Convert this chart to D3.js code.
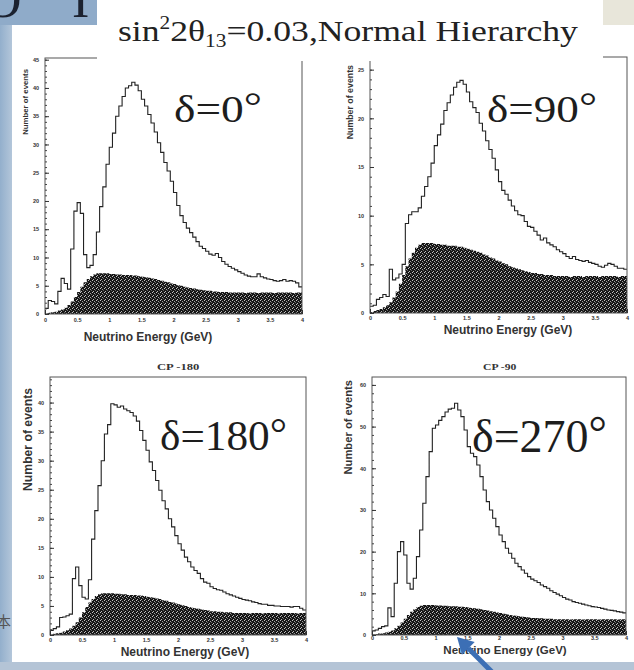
<!DOCTYPE html>
<html><head><meta charset="utf-8">
<script src="https://cdn.jsdelivr.net/npm/d3@7"></script>
<style>body{margin:0;background:#fff}svg{display:block}</style>
</head><body>
<svg id="c" width="634" height="670"></svg>
<script>
// ---------- data ----------
const binWidth = 0.05;
const nBins = 80;
const xTicks = [0, 0.5, 1, 1.5, 2, 2.5, 3, 3.5, 4];
const xTickLabels = ["0", "0.5", "1", "1.5", "2", "2.5", "3", "3.5", "4"];

// background (hatched) histogram, events per 0.05 GeV bin
const background = [0.1,0.2,0.3,0.4,0.6,0.8,1.1,1.6,2.2,3.0,
 3.9,4.8,5.6,6.2,6.7,7.0,7.2,7.2,7.2,7.2,
 7.1,7.1,7.0,7.0,6.9,6.9,6.9,6.8,6.8,6.7,
 6.6,6.5,6.4,6.3,6.2,6.0,5.9,5.7,5.6,5.4,
 5.3,5.1,5.0,4.8,4.7,4.6,4.5,4.4,4.3,4.2,
 4.1,4.1,4.0,4.0,3.9,3.9,3.9,3.8,3.8,3.8,
 3.8,3.8,3.7,3.8,3.8,3.8,3.7,3.8,3.8,3.8,
 3.8,3.7,3.8,3.8,3.8,3.8,3.8,3.7,3.8,3.8];

// total spectra for each CP phase
const total_d0 = [1.0,2.4,2.2,1.8,4.0,6.3,5.4,4.4,11.5,18.2,
 19.7,17.8,10.5,8.2,8.6,10.5,14.5,19.0,22.5,26.5,
 29.5,32.0,35.0,36.8,38.5,40.0,40.4,41.0,40.5,39.5,
 38.0,36.8,35.3,33.8,32.2,30.3,28.6,26.8,25.3,23.5,
 21.5,19.2,17.4,16.2,15.2,14.4,13.6,12.8,12.0,11.6,
 11.1,10.6,10.4,10.7,10.0,9.3,8.8,8.4,8.1,7.8,
 7.5,7.2,6.9,6.7,6.6,6.6,7.1,6.6,6.4,6.2,
 6.1,5.9,5.8,5.9,6.1,5.8,5.9,5.8,5.5,4.8];

const total_d90 = [0.7,0.8,1.4,1.6,1.9,1.7,4.5,3.4,3.6,4.0,
 5.0,9.2,10.1,10.4,10.4,10.8,12.0,13.0,14.0,15.4,
 17.2,18.3,19.4,20.8,21.6,22.4,23.2,23.7,23.9,23.5,
 22.7,21.7,21.1,20.6,19.5,18.7,17.7,16.8,15.9,14.7,
 13.5,12.6,12.2,11.6,11.0,10.5,10.1,10.0,9.4,8.9,
 8.8,8.4,8.0,7.5,7.7,7.2,7.0,6.8,6.5,6.3,
 6.1,5.8,5.6,5.8,5.5,5.4,5.3,5.4,5.2,5.1,
 5.0,4.8,4.7,4.9,5.1,5.0,4.8,4.6,4.6,4.5];

const total_d180 = [0.8,1.1,1.4,3.0,3.1,3.3,3.6,9.7,11.7,8.5,
 6.5,6.2,9.5,16.5,21.4,25.7,30.0,34.6,36.2,39.8,
 39.6,39.2,39.4,38.9,38.6,38.3,37.7,36.8,35.2,33.5,
 31.8,29.8,28.3,26.6,24.9,23.1,21.7,20.0,18.6,17.1,
 15.7,14.6,13.4,12.6,11.7,11.1,10.6,9.7,9.1,8.9,
 8.3,8.0,7.8,7.7,7.4,7.1,6.9,6.7,6.5,6.3,
 6.1,6.0,5.9,5.7,5.6,5.4,5.3,5.3,5.1,5.1,
 5.0,5.0,4.9,4.9,4.9,4.8,4.9,4.9,4.6,4.3];

const total_d270 = [1.0,1.2,1.6,2.0,2.2,6.5,4.4,12.4,20.0,22.4,
 19.2,12.4,11.0,13.6,18.8,25.2,31.6,38.0,44.0,49.6,
 50.4,51.5,52.4,53.5,54.2,54.4,55.6,54.0,52.4,49.2,
 45.2,43.6,42.8,40.8,38.0,34.8,32.0,30.0,28.0,26.0,
 24.0,22.4,20.8,19.6,18.4,17.2,16.4,15.6,14.8,14.0,
 13.4,13.0,12.6,12.0,11.6,11.2,10.6,10.2,9.8,9.4,
 9.0,8.6,8.4,8.0,7.8,7.6,7.4,7.2,7.0,6.8,
 6.7,6.6,6.4,6.2,6.0,5.9,5.8,5.6,5.5,5.3];

const yTicks_d0 = [0,5,10,15,20,25,30,35,40,45];
const yTicks_d90 = [0,5,10,15,20,25];
const yTicks_d180 = [0,5,10,15,20,25,30,35,40];
const yTicks_d270 = [0,10,20,30,40,50,60];

const deltaLabels = ["0", "90", "180", "270"];
const panelTitles = ["", "", "CP -180", "CP -90"];
const titleMain = ["sin", "2", "2θ", "13", "=0.03,Normal Hierarchy"];
const yTitle = "Number of events";
const xTitle = "Neutrino Energy (GeV)";

// ---------- layout ----------
const W = 634, H = 670;
const svg = d3.select("#c");
const SANS = "'Liberation Sans', Arial, sans-serif";
const SERIF = "'Liberation Serif', 'Times New Roman', serif";

const defs = svg.append("defs");
const pat = defs.append("pattern").attr("id", "speck").attr("width", 4).attr("height", 4)
  .attr("patternUnits", "userSpaceOnUse");
pat.append("rect").attr("width", 4).attr("height", 4).attr("fill", "#161616");
[[0, 0, 0.75], [2, 1, 0.6], [1, 3, 0.7], [3, 2, 0.35]].forEach(([px, py, op]) =>
  pat.append("rect").attr("x", px).attr("y", py).attr("width", 1).attr("height", 1)
    .attr("fill", "#fff").attr("opacity", op));

const lg = defs.append("linearGradient").attr("id", "strip").attr("x1", 0).attr("x2", 1);
lg.append("stop").attr("offset", 0).attr("stop-color", "#93afcc");
lg.append("stop").attr("offset", 1).attr("stop-color", "#b3c6da");

// slide background pieces
svg.append("rect").attr("width", W).attr("height", H).attr("fill", "#fff");
svg.append("rect").attr("x", 0).attr("y", 0).attr("width", 12).attr("height", H).attr("fill", "url(#strip)");
svg.append("rect").attr("x", 0).attr("y", 662).attr("width", W).attr("height", 8).attr("fill", "#b4c4d6");

const panels = [
  {values: total_d0, yTicks: yTicks_d0, minor: 1, yMax: 45.3, l: 45, r: 302, t: 58, b: 314,
   delta: {x0: 174, x1: 262, y: 122, fs: 37},
   yt: {x: 28, y: 69, fs: 7.8}, xt: {x: 148, y: 341, fs: 12}, xlabY: 318},
  {values: total_d90, yTicks: yTicks_d90, minor: 1, yMax: 26.3, l: 370, r: 627, t: 57, b: 313,
   delta: {x0: 487, x1: 597, y: 122, fs: 39},
   yt: {x: 353, y: 65, fs: 8.8}, xt: {x: 508, y: 334, fs: 12}, xlabY: 316},
  {values: total_d180, yTicks: yTicks_d180, minor: 1, yMax: 44.4, l: 50, r: 306, t: 377, b: 635,
   delta: {x0: 160, x1: 287, y: 450, fs: 42},
   yt: {x: 32, y: 388, fs: 12.2}, xt: {x: 185, y: 656, fs: 12}, xlabY: 638,
   title: {x0: 157, x1: 200, y: 370}},
  {values: total_d270, yTicks: yTicks_d270, minor: 2, yMax: 61.9, l: 372, r: 626, t: 377, b: 635,
   delta: {x0: 472, x1: 607, y: 452, fs: 46},
   yt: {x: 352, y: 380, fs: 11.2}, xt: {x: 505, y: 654, fs: 11.5}, xlabY: 636.5,
   title: {x0: 483, x1: 517, y: 370}}
];

function fitText(sel, x0, x1, y) {
  const w = sel.node().getBBox().width;
  const s = (x1 - x0) / w;
  sel.attr("transform", `translate(${x0},${y}) scale(${s},1)`);
}

const binEdges = d3.range(nBins).map(i => i * binWidth);

panels.forEach((p, pi) => {
  const x = d3.scaleLinear().domain([0, 4]).range([p.l, p.r]);
  const y = d3.scaleLinear().domain([0, p.yMax]).range([p.b, p.t]);
  const g = svg.append("g");
  const cid = "clip" + pi;
  defs.append("clipPath").attr("id", cid).append("rect")
    .attr("x", p.l).attr("y", p.t).attr("width", p.r - p.l).attr("height", p.b - p.t);

  const bgPts = binEdges.map((e, i) => [e, background[i]]).concat([[4, background[nBins - 1]]]);
  const totPts = binEdges.map((e, i) => [e, p.values[i]]).concat([[4, p.values[nBins - 1]]]);

  g.append("path").attr("clip-path", `url(#${cid})`)
    .attr("d", d3.area().curve(d3.curveStepAfter).x(d => x(d[0])).y0(y(0)).y1(d => y(d[1]))(bgPts))
    .attr("fill", "url(#speck)");
  g.append("path").attr("clip-path", `url(#${cid})`)
    .attr("d", d3.line().curve(d3.curveStepAfter).x(d => x(d[0])).y(d => y(d[1]))(totPts))
    .attr("fill", "none").attr("stroke", "#222").attr("stroke-width", 1.1);

  // frame
  g.append("rect").attr("x", p.l).attr("y", p.t).attr("width", p.r - p.l).attr("height", p.b - p.t)
    .attr("fill", "none").attr("stroke", "#555").attr("stroke-width", 1);

  // y axis ticks
  const yMinor = d3.range(0, p.yMax, p.minor);
  g.append("g").attr("transform", `translate(${p.l},0)`)
    .call(d3.axisLeft(y).tickValues(yMinor).tickSize(-2).tickFormat(""))
    .call(a => { a.select(".domain").remove(); a.selectAll("line").attr("stroke", "#444"); });
  g.append("g").attr("transform", `translate(${p.l},0)`)
    .call(d3.axisLeft(y).tickValues(p.yTicks).tickSize(-4).tickPadding(6).tickFormat(d3.format("d")))
    .call(a => {
      a.select(".domain").remove();
      a.selectAll("line").attr("stroke", "#333");
      a.selectAll("text").attr("font-family", SANS).attr("font-size", 5.5).attr("font-weight", "bold").attr("fill", "#333");
    });
  // x axis ticks
  const xMinor = d3.range(0, 4.001, 0.1);
  g.append("g").attr("transform", `translate(0,${p.b})`)
    .call(d3.axisBottom(x).tickValues(xMinor).tickSize(-2).tickFormat(""))
    .call(a => { a.select(".domain").remove(); a.selectAll("line").attr("stroke", "#444"); });
  g.append("g").attr("transform", `translate(0,${p.b})`)
    .call(d3.axisBottom(x).tickValues(xTicks).tickSize(-4).tickPadding(p.xlabY - p.b).tickFormat((d, i) => xTickLabels[i]))
    .call(a => {
      a.select(".domain").remove();
      a.selectAll("line").attr("stroke", "#333");
      a.selectAll("text").attr("font-family", SANS).attr("font-size", 5.5).attr("font-weight", "bold").attr("fill", "#333");
    });

  // axis titles
  g.append("text").attr("transform", `translate(${p.yt.x},${p.yt.y}) rotate(-90)`)
    .attr("text-anchor", "end").attr("font-family", SANS).attr("font-weight", "bold")
    .attr("font-size", p.yt.fs).attr("fill", "#333").text(yTitle);
  g.append("text").attr("x", p.xt.x).attr("y", p.xt.y).attr("text-anchor", "middle")
    .attr("font-family", SANS).attr("font-weight", "bold").attr("font-size", p.xt.fs)
    .attr("fill", "#333").text(xTitle);

  if (p.title) {
    const tt = g.append("text").attr("font-family", SERIF).attr("font-weight", "bold")
      .attr("font-size", 9).attr("fill", "#333").text(panelTitles[pi]);
    fitText(tt, p.title.x0, p.title.x1, p.title.y);
  }
});

// delta labels (drawn after all panels)
panels.forEach((p, pi) => {
  const dt = svg.append("text").attr("font-family", SERIF).attr("font-size", p.delta.fs).attr("fill", "#1d1d1d");
  dt.append("tspan").text("δ=" + deltaLabels[pi]);
  dt.append("tspan").attr("dy", -p.delta.fs * 0.08).text("°");
  fitText(dt, p.delta.x0, p.delta.x1, p.delta.y);
});

// title box covering top of upper panels
svg.append("rect").attr("x", 97).attr("y", 0).attr("width", 506).attr("height", 61).attr("fill", "#fff");
svg.append("rect").attr("x", 0).attr("y", 0).attr("width", 97).attr("height", 25).attr("fill", "#8fabc9");
svg.append("rect").attr("x", 603).attr("y", 0).attr("width", 31).attr("height", 25).attr("fill", "#e8e6da");
svg.append("text").attr("x", -16).attr("y", 17).attr("font-family", SERIF).attr("font-size", 52)
  .attr("fill", "#1c2230").text("O");
svg.append("text").attr("x", 72).attr("y", 17).attr("font-family", SERIF).attr("font-size", 52)
  .attr("fill", "#1c2230").text("I");

const title = svg.append("text").attr("font-family", SERIF).attr("font-size", 30).attr("fill", "#222");
title.append("tspan").text(titleMain[0]);
title.append("tspan").attr("font-size", 18).attr("dy", -12).text(titleMain[1]);
title.append("tspan").attr("dy", 12).text(titleMain[2]);
title.append("tspan").attr("font-size", 18).attr("dy", 6).text(titleMain[3]);
title.append("tspan").attr("dy", -6).text(titleMain[4]);
fitText(title, 118, 578, 41);

// bottom-left slide fragment
svg.append("text").attr("x", -4).attr("y", 627).attr("font-family", "'Noto Sans CJK SC', sans-serif")
  .attr("font-size", 15).attr("fill", "#555").text("本");

// blue arrow pointing at x-axis title of lower-right panel
const arrowTip = [457, 637], arrowTail = [492, 672];
const ang = Math.atan2(arrowTail[1] - arrowTip[1], arrowTail[0] - arrowTip[0]);
const hl = 16, hw = 9;
const bx = arrowTip[0] + hl * Math.cos(ang), by = arrowTip[1] + hl * Math.sin(ang);
svg.append("line").attr("x1", bx).attr("y1", by).attr("x2", arrowTail[0]).attr("y2", arrowTail[1])
  .attr("stroke", "#3c6fb5").attr("stroke-width", 5);
svg.append("path").attr("d", d3.line()([
  arrowTip,
  [bx + hw * Math.sin(ang), by - hw * Math.cos(ang)],
  [bx - hw * Math.sin(ang), by + hw * Math.cos(ang)]
])).attr("fill", "#3c6fb5");
</script>
</body></html>
